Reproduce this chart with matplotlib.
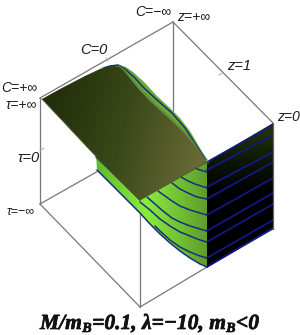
import numpy as np
import matplotlib
matplotlib.use('Agg')
import matplotlib.pyplot as plt
import matplotlib.patheffects as pe
from matplotlib.colors import to_rgb
from matplotlib.patches import Polygon

# picture read in image pixels (x, y), 300x335
box_x = [[40, 173], [173, 273], [40, 40], [173, 173], [40, 140], [140, 207], [140, 140], [40, 100], [207, 273]]
box_y = [[98, 22], [22, 123], [98, 204], [22, 115], [204, 307], [307, 267], [207, 307], [204, 170], [267, 229]]

# sheet over the top
dark_x = [42, 60, 85, 100, 108, 114, 119, 123, 128, 138, 150, 162, 173, 183, 193, 200, 207, 140, 115, 90, 60]
dark_y = [99, 89, 76, 69, 67, 66, 67, 70, 76, 88, 101, 112, 122, 132, 143, 152, 162, 200, 176, 150, 118]

# green rim above the sheet
rim_x = [100, 108, 114, 120, 126, 133, 145, 157, 170, 180, 190, 197, 203, 207, 193, 173, 150, 128]
rim_y = [68, 66, 65, 65, 67, 72, 83, 96, 108, 118, 131, 143, 154, 162, 143, 122, 101, 76]
rim_line_x = [104, 110, 118, 125, 135, 143, 157, 172, 185, 197, 206]
rim_line_y = [68, 66, 65, 69, 78, 87, 100, 113, 128, 146, 160]

# blue curves on the green wall
curve_a_x, curve_a_y = [195, 200, 207], [168, 170, 172]
curve_b_x, curve_b_y = [181, 188, 195, 207], [177, 181, 184, 188]
curve_c_x, curve_c_y = [172, 180, 188, 197, 207], [183, 189, 193, 197, 199]
curve_d_x, curve_d_y = [158, 165, 172, 180, 190, 200, 207], [191, 196, 201, 206, 210, 213, 215]
curve_e_x, curve_e_y = [147, 155, 163, 172, 180, 190, 200, 207], [197, 204, 211, 218, 222, 226, 229, 231]
curve_f_x, curve_f_y = [140, 150, 160, 170, 180, 190, 200, 207], [202, 210, 219, 226, 232, 236, 240, 242]
curve_g_x, curve_g_y = [155, 160, 170, 180, 190, 200, 207], [226, 231, 240, 247, 252, 256, 258]
curve_h_x = [97, 108, 120, 130, 140, 150, 160, 170, 180, 190, 200, 207]
curve_h_y = [170, 181, 193, 203, 213, 224, 234, 243, 251, 258, 264, 267]
curve_i_x, curve_i_y = [96, 118, 140], [157, 178, 200]

# green wall under the sheet
wall_x = [96, 140, 207] + curve_h_x[::-1]
wall_y = [153, 200, 162] + curve_h_y[::-1]

# right wall
face_x = [207, 273, 273, 207]
face_y = [162, 123, 229, 267]
face_left_y = [162, 170, 187, 199, 215, 231, 242, 258, 267]
face_right_y = [125, 135, 152, 162, 178, 193, 204, 220, 228]

labels = ['C=−∞', 'z=+∞', 'C=0', 'z=1', 'C=+∞', 'τ=+∞', 'z=0', 'τ=0', 'τ=−∞']
label_x = [135, 177, 80, 227, 1, 5, 277, 17, 7]
label_y = [12, 17, 50, 66, 88, 105, 117, 158, 212]
label_size = [10, 10, 10.5, 10.5, 10, 10, 10, 10.5, 9]

title_parts = ['M/m', 'B', '=0.1, λ=−10, m', 'B', '<0']
title_sub = [False, True, False, True, False]

BLUE = '#14307e'
EDGE = '#777777'


def shade(poly_x, poly_y, start, end, stops, colors, zorder):
    # gradient along start->end, clipped to the polygon
    xx, yy = np.meshgrid(np.arange(300) + 0.5, np.arange(335) + 0.5)
    d = np.array(end, dtype=float) - start
    t = ((xx - start[0]) * d[0] + (yy - start[1]) * d[1]) / (d @ d)
    rgb = np.array([to_rgb(c) for c in colors])
    img = np.dstack([np.interp(t, stops, rgb[:, i]) for i in range(3)])
    im = ax.imshow(img, extent=(0, 300, 335, 0), zorder=zorder, interpolation='bilinear')
    patch = Polygon(np.column_stack([poly_x, poly_y]), closed=True, transform=ax.transData)
    im.set_clip_path(patch)


fig = plt.figure(figsize=(3.0, 3.35), dpi=100)
ax = fig.add_axes([0, 0, 1, 1])
ax.set_xlim(0, 300)
ax.set_ylim(335, 0)

for xs, ys in zip(box_x, box_y):
    ax.plot(xs, ys, color=EDGE, lw=0.9, zorder=1)
ax.plot([108, 106], [61, 58], color='#aaaaaa', lw=0.7, zorder=1)
ax.plot([40, 44], [151, 148], color='#aaaaaa', lw=0.7, zorder=1)
ax.plot([219, 222], [75, 73], color='#bbbbbb', lw=0.9, zorder=1)

shade(wall_x, wall_y, (97, 0), (207, 0), [0, 0.45, 1],
      ['#62bb2a', '#8aec3e', '#5f9c2a'], 2)
shade(rim_x, rim_y, (120, 65), (207, 162), [0, 1], ['#6aa835', '#74b038'], 2)
shade(face_x, face_y, (240, 135), (240, 215), [0, 0.35, 0.75, 1],
      ['#1f2f08', '#0c1404', '#000000', '#000000'], 2)

for xs, ys in [(curve_a_x, curve_a_y), (curve_b_x, curve_b_y), (curve_c_x, curve_c_y),
               (curve_d_x, curve_d_y), (curve_e_x, curve_e_y), (curve_f_x, curve_f_y),
               (curve_g_x, curve_g_y), (curve_h_x, curve_h_y), (curve_i_x, curve_i_y),
               (rim_line_x, rim_line_y)]:
    ax.plot(xs, ys, color=BLUE, lw=1.1, zorder=3, solid_capstyle='round')
for yl, yr in zip(face_left_y, face_right_y):
    ax.plot([207, 273], [yl, yr], color='#101a8c', lw=1.2, zorder=3)
ax.plot([273, 273], [123, 229], color='#666666', lw=0.9, zorder=3)

# soft edge of the sheet
ax.plot(dark_x[6:17], dark_y[6:17], color='#55782a', lw=3, alpha=0.5, zorder=3.5)
shade(dark_x, dark_y, (50, 95), (205, 135), [0, 0.5, 1],
      ['#212e09', '#3a4819', '#686a34'], 4)
ax.plot(dark_x[16:] + dark_x[:1], dark_y[16:] + dark_y[:1], color='#4c5530', lw=0.7, zorder=4.5)

for s, x, y, fs in zip(labels, label_x, label_y, label_size):
    ax.text(x, y, s, fontsize=fs, style='italic', family='Liberation Sans',
            color='#1a1a1a', va='center', ha='left', zorder=5)

# caption pieces put one after the other, B is a subscript
renderer = fig.canvas.get_renderer()
pen = 40.0
for part, sub in zip(title_parts, title_sub):
    t = ax.text(pen, 332 if sub else 329, part, fontsize=10 if sub else 15.5, family='Liberation Serif',
                style='italic', weight='bold', color='#111111', ha='left', va='baseline', zorder=5,
                path_effects=[pe.withStroke(linewidth=0.5, foreground='#111111')])
    pen += t.get_window_extent(renderer).width + 0.5

ax.axis('off')
fig.savefig('out.png', dpi=100)
